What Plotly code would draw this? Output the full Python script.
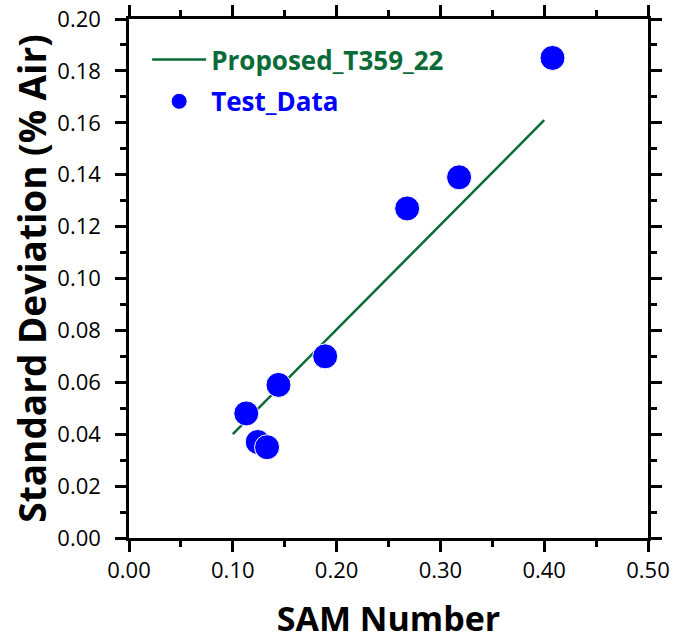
import plotly.graph_objects as go

test_x = [0.408, 0.318, 0.268, 0.189, 0.144, 0.113, 0.124, 0.133]
test_y = [0.185, 0.139, 0.127, 0.070, 0.059, 0.048, 0.037, 0.035]
line_x = [0.10, 0.40]
line_y = [0.040, 0.161]

fig = go.Figure()
fig.add_trace(go.Scatter(x=line_x, y=line_y, mode="lines", legendgroup="a",
                         name="<b><span style='color:#0b6b38'>Proposed_T359_22</span></b>",
                         line=dict(color="#0b6b38", width=2.5)))
fig.add_trace(go.Scatter(x=test_x, y=test_y, mode="markers", legendgroup="b",
                         name="<b><span style='color:#0000ff'>Test_Data</span></b>",
                         marker=dict(color="#0000ff", size=25, line=dict(color="white", width=1))))

axis_common = dict(showline=True, linecolor="black", linewidth=2.5, mirror="allticks",
                   ticks="outside", tickcolor="black", tickwidth=2.5, ticklen=11,
                   showgrid=False, zeroline=False, automargin=False, ticklabeloverflow="allow",
                   tickfont=dict(family="Open Sans", size=22, color="black"))
fig.update_xaxes(range=[0, 0.5], dtick=0.1, tickformat=".2f",
                 minor=dict(dtick=0.05, ticks="outside", ticklen=6, tickcolor="black", tickwidth=2.5),
                 title=dict(text="<b>SAM Number</b>", font=dict(family="Open Sans", size=34, color="black"), standoff=25),
                 **axis_common)
fig.update_yaxes(range=[0, 0.2], dtick=0.02, tickformat=".2f", ticklabelstandoff=10,
                 minor=dict(dtick=0.01, ticks="outside", ticklen=6, tickcolor="black", tickwidth=2.5),
                 title=dict(text="<b>Standard Deviation (% Air)</b>", font=dict(family="Open Sans", size=37, color="black"), standoff=0),
                 **axis_common)
fig.update_layout(width=677, height=642, plot_bgcolor="white", paper_bgcolor="white",
                  margin=dict(l=129, r=29, t=19, b=104),
                  legend=dict(x=0.035, y=0.967, xanchor="left", yanchor="top", bgcolor="rgba(0,0,0,0)",
                              font=dict(family="Open Sans", size=26), itemwidth=54, tracegroupgap=5))
fig.write_html("out.html", config={"displayModeBar": False},
               post_script="document.body.style.margin='0';")
